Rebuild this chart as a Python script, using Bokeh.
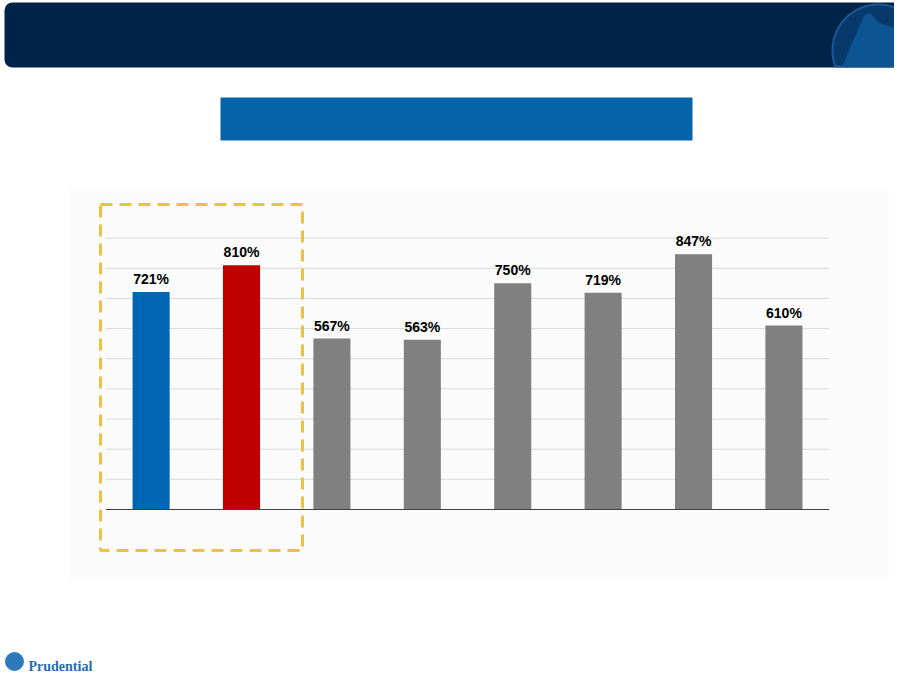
import numpy as np
from bokeh.plotting import figure
from bokeh.models import Range1d
from bokeh.core.properties import value
from bokeh.embed import file_html
from bokeh.resources import INLINE

# ---- data ----
categories = ["A", "B", "C", "D", "E", "F", "G", "H"]
values = [721, 810, 567, 563, 750, 719, 847, 610]
labels = ["721%", "810%", "567%", "563%", "750%", "719%", "847%", "610%"]
bar_colors = ["#0066B3", "#C00000", "#808080", "#808080",
              "#808080", "#808080", "#808080", "#808080"]
grid_values = [100, 200, 300, 400, 500, 600, 700, 800, 900]

W, H = 894, 677
idx = np.arange(len(categories))

# data ranges chosen so category i sits at its slot and 100% = ~30 px
p = figure(width=W, height=H, output_backend="svg", toolbar_location=None,
           x_range=Range1d(-1.666, 8.223), y_range=Range1d(-557.2, 1688.2),
           x_axis_location=None, y_axis_location=None, min_border=0)
p.extra_x_ranges = {"px": Range1d(0, W)}
p.extra_y_ranges = {"px": Range1d(H, 0)}
p.xgrid.visible = False
p.ygrid.visible = False
p.outline_line_color = None
p.background_fill_color = "white"
p.border_fill_color = "white"

PX = dict(x_range_name="px", y_range_name="px")

# header band
p.quad(left=4, right=908, top=2, bottom=67, fill_color="#00234A",
       line_color=None, border_radius=8, **PX)
# header emblem
th = np.linspace(0, 2 * np.pi, 200)
cx, cy, r = 878, 50, 46
ex = np.minimum(cx + r * np.cos(th), 907)
ey = np.minimum(cy - r * np.sin(th), 66)
p.patch(ex, ey, fill_color="#07396A", line_color="#1A5A92", line_width=2, **PX)
p.patch([842, 850, 858, 864, 870, 878, 892, 907, 907],
        [66, 46, 28, 14, 13, 22, 27, 31, 66],
        fill_color="#0D5592", line_color=None, **PX)

# blue title box
p.quad(left=220, right=692, top=97, bottom=140, fill_color="#0563A9",
       line_color=None, **PX)

# chart panel
p.quad(left=70, right=888, top=187, bottom=580, fill_color="#FAFBFA",
       line_color=None, **PX)

# gridlines
p.segment(x0=-0.5, x1=7.5, y0=grid_values, y1=grid_values,
          line_color="#D9D9D9", line_width=1)

# bars
p.vbar(x=idx, top=values, bottom=0, width=0.41, fill_color=bar_colors,
       line_color=None)

# baseline
p.segment(x0=[-0.5], x1=[7.5], y0=[0], y1=[0], line_color="#404040",
          line_width=1.2)

# value labels
p.text(x=idx, y=values, text=labels, text_align="center",
       text_baseline="alphabetic", y_offset=-13,
       text_font=value("Liberation Sans"), text_font_style="bold",
       text_font_size="14px", text_color="black")

# dashed highlight box
p.quad(left=100, right=302, top=204, bottom=550, fill_color=None,
       line_color="#F0C040", line_width=3, line_dash="12 7", **PX)

# footer logo
p.ellipse(x=[14], y=[661], width=18, height=18, fill_color="#2E78BC",
          line_color="#2E78BC", **PX)
p.text(x=[28], y=[666], text=["Prudential"], text_align="left",
       text_baseline="alphabetic", text_font=value("Liberation Serif"),
       text_font_style="bold", text_font_size="14px", text_color="#1F6DB5",
       **PX)

open("out.html", "w").write(file_html(p, INLINE))
